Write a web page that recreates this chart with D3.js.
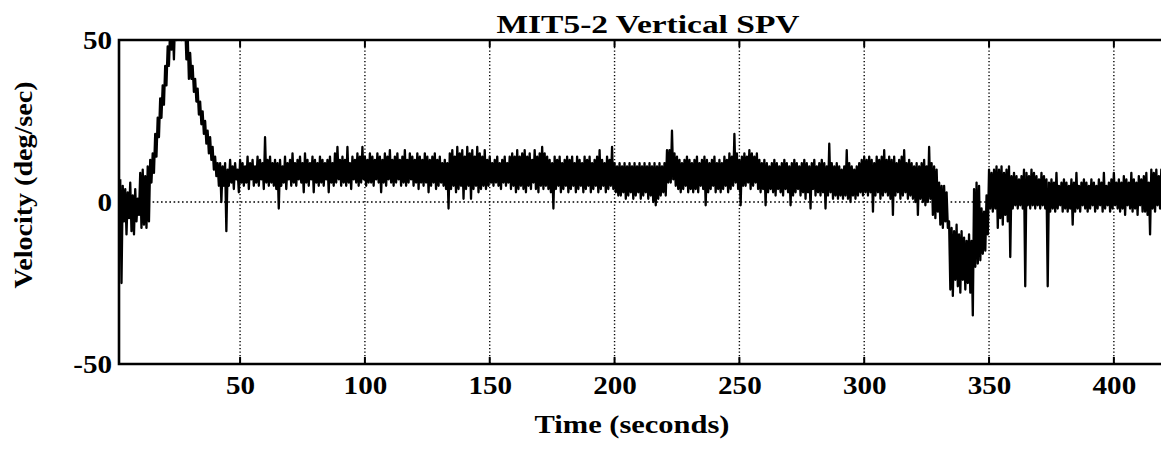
<!DOCTYPE html>
<html><head><meta charset="utf-8">
<script src="https://cdn.jsdelivr.net/npm/d3@7"></script>
<style>body{margin:0;background:#fff}svg{display:block}
text{font-family:"Liberation Serif","Times New Roman",Times,serif;font-weight:bold;fill:#000}</style>
</head><body><svg id="c" width="1161" height="450"></svg>
<script>
const title = "MIT5-2 Vertical SPV";
const xLabel = "Time (seconds)";
const yLabel = "Velocity (deg/sec)";
const xTicks = [50, 100, 150, 200, 250, 300, 350, 400];
const yTicks = [-50, 0, 50];
const xDomain = [1.5, 419];
const yDomain = [-50, 50];
const tStart = 2; // first second of the record; one high/low pair per second
const hi = [
  7, 5, 4, 3, 6, 2, 4, 1, 9, 10,
  8, 11, 13, 15, 21, 26, 32, 36, 42, 48,
  54, 56, 58, 58, 57, 56, 55, 52, 46, 42,
  38, 35, 31, 28, 25, 22, 20, 17, 14, 12,
  12, 11, 12, 10, 13, 11, 12, 10, 13, 12,
  11, 14, 12, 13, 11, 14, 13, 12, 20, 13,
  14, 12, 13, 12, 13, 11, 14, 12, 13, 15,
  12, 13, 14, 12, 15, 13, 12, 14, 13, 12,
  14, 13, 12, 13, 14, 12, 15, 17, 13, 14,
  13, 17, 12, 14, 13, 15, 14, 17, 14, 13,
  15, 14, 13, 15, 14, 13, 15, 14, 16, 13,
  14, 15, 13, 14, 16, 13, 15, 14, 13, 15,
  14, 13, 15, 14, 13, 14, 15, 13, 14, 12,
  13, 12, 15, 16, 14, 17, 15, 16, 14, 17,
  15, 16, 14, 17, 15, 14, 16, 13, 14, 12,
  13, 14, 12, 13, 14, 12, 14, 15, 14, 16,
  14, 15, 16, 14, 15, 13, 16, 14, 15, 17,
  15, 14, 13, 12, 14, 13, 14, 12, 13, 14,
  13, 14, 12, 14, 13, 12, 14, 13, 14, 12,
  13, 14, 16, 13, 12, 14, 13, 17, 12, 11,
  12, 11, 12, 11, 12, 11, 12, 11, 12, 11,
  12, 11, 12, 11, 12, 11, 12, 11, 12, 16,
  16, 22, 15, 14, 13, 12, 13, 14, 13, 12,
  13, 14, 12, 13, 14, 13, 12, 13, 14, 12,
  13, 12, 14, 13, 15, 14, 21, 15, 13, 14,
  15, 14, 16, 15, 14, 15, 13, 12, 13, 12,
  11, 12, 13, 12, 11, 12, 13, 12, 11, 12,
  13, 12, 11, 12, 13, 12, 11, 12, 13, 11,
  12, 13, 12, 11, 18, 12, 11, 12, 11, 10,
  11, 16, 12, 11, 10, 11, 12, 13, 14, 13,
  14, 13, 12, 14, 13, 14, 16, 13, 14, 13,
  14, 12, 13, 14, 16, 12, 13, 12, 11, 12,
  11, 12, 13, 11, 17, 12, 11, 10, 6, 5,
  5, 3, -6, -8, -9, -7, -10, -9, -11, -12,
  -10, -12, 4, 6, 5, -2, -3, 2, 10, 9,
  10, 11, 10, 11, 9, 10, 11, 8, 9, 8,
  7, 8, 10, 9, 8, 10, 9, 8, 7, 9,
  8, 7, 6, 7, 6, 9, 5, 6, 7, 6,
  5, 7, 6, 9, 5, 6, 7, 6, 5, 7,
  6, 5, 7, 6, 9, 5, 6, 7, 9, 6,
  7, 6, 8, 7, 6, 9, 7, 6, 8, 7,
  8, 9, 6, 10, 9, 10, 8, 10
];
const lo = [
  -25, -6, -10, -5, -9, -10, -6, -4, -8, -7,
  -8, -6, 6, 9, 14, 20, 26, 30, 36, 42,
  47, 44, 50, 51, 50, 50, 44, 38, 38, 34,
  31, 27, 24, 21, 18, 15, 13, 10, 8, 5,
  0, 5, -9, 5, 6, 4, 7, 3, 6, 5,
  6, 4, 7, 5, 6, 5, 7, 4, 6, 5,
  6, 5, 4, -2, 5, 6, 4, 7, 5, 6,
  5, 7, 6, 3, 6, 5, 7, 3, 6, 5,
  6, 5, 7, 3, 6, 5, 6, 7, 5, 6,
  5, 6, 4, 7, 6, 5, 6, 7, 5, 6,
  6, 5, 7, 6, 3, 6, 5, 7, 6, 5,
  6, 7, 5, 6, 5, 6, 7, 5, 6, 4,
  6, 5, 6, 3, 5, 6, 4, 5, 6, 5,
  4, -2, 4, 5, 3, 4, 5, 1, 4, 5,
  1, 4, 5, 3, 4, 5, 4, 5, 6, 5,
  6, 5, 4, 6, 5, 6, 4, 5, 3, 4,
  5, 4, 3, 5, 4, 6, 4, 3, 5, 4,
  5, 4, 3, -2, 4, 5, 3, 4, 5, 3,
  4, 5, 3, 4, 5, 3, 4, 5, 3, 4,
  5, 3, 4, 5, 3, 4, 5, 4, 3, 2,
  2, 3, 1, 2, 3, 1, 2, 3, 1, 2,
  3, 1, 2, 0, -1, 1, 2, 3, 2, 6,
  6, 7, 5, 4, 3, 4, 5, 3, 4, 3,
  4, 3, 5, 4, -1, 3, 4, 5, 3, 4,
  3, 4, 5, 3, 4, 5, 6, 4, -1, 5,
  5, 6, 4, 5, 6, 4, 3, 4, -1, 3,
  4, 3, 2, 4, 3, 2, 4, 3, -1, 2,
  3, 4, 2, 3, 1, 3, -2, 4, 2, 3,
  2, 3, -2, 2, 3, 1, 2, 1, 2, 1,
  2, 1, 0, 2, 1, 2, 3, 2, 3, 2,
  3, -3, 2, 3, 1, 2, 3, 2, 1, -4,
  2, 3, 1, 2, 3, 1, 2, 1, 0, -4,
  1, 0, -1, 0, 1, -4, -5, -3, -7, -8,
  -6, -8, -27, -29, -24, -26, -28, -24, -27, -25,
  -28, -35, -20, -19, -18, -16, -15, -10, -2, -3,
  -2, -8, -5, -7, -4, -6, -17, -2, -1, -2,
  -1, -2, -26, -1, -2, -1, -2, -1, -2, -1,
  -2, -26, -3, -2, -3, -2, -1, -3, -2, -3,
  -2, -7, -3, -2, -3, -1, -2, -3, -2, -1,
  -3, -2, -1, -3, -2, -1, -3, -2, -1, -2,
  -3, -2, -4, -1, -2, -3, -2, -4, -1, -3,
  -3, -4, -10, -2, -3, -1, -2, -3
];

const W = 1161, H = 450;
const L = 119, R = 1161.3, T = 40, B = 364;
const svg = d3.select("#c");

const x = d3.scaleLinear().domain(xDomain).range([L, R]);
const y = d3.scaleLinear().domain(yDomain).range([B, T]);
const fmt = d => String(d); // plain hyphen-minus as in the original

// grid
const grid = svg.append("g");
grid.selectAll("line.v").data(xTicks).join("line")
  .attr("x1", d => x(d)).attr("x2", d => x(d)).attr("y1", T).attr("y2", B)
  .attr("stroke", "#000").attr("stroke-width", 1.4).attr("stroke-dasharray", "1.3,2.2");
grid.append("line")
  .attr("x1", L).attr("x2", W + 2).attr("y1", y(0)).attr("y2", y(0))
  .attr("stroke", "#000").attr("stroke-width", 1.6).attr("stroke-dasharray", "1.6,2.6");

// data
svg.append("clipPath").attr("id", "clip").append("rect")
  .attr("x", L).attr("y", T).attr("width", W - L + 5).attr("height", B - T);
const n = Math.min(hi.length, lo.length);
const pts = [];
for (let i = 0; i < n; i++) {
  pts.push([tStart + i, hi[i]]);
  pts.push([tStart + i + 0.5, lo[i]]);
}
const line = d3.line().x(d => x(d[0])).y(d => y(d[1]));
svg.append("path").datum(pts)
  .attr("clip-path", "url(#clip)")
  .attr("fill", "none").attr("stroke", "#000").attr("stroke-width", 2.3)
  .attr("stroke-linejoin", "round")
  .attr("d", line);

// frame
svg.append("path")
  .attr("d", `M${W + 5},${T} H${L} V${B} H${W + 5}`)
  .attr("fill", "none").attr("stroke", "#000").attr("stroke-width", 2.6);

// inner ticks
const tk = svg.append("g");
tk.selectAll("line.t").data(xTicks).join("line")
  .attr("x1", d => x(d)).attr("x2", d => x(d)).attr("y1", T).attr("y2", T + 7)
  .attr("stroke", "#000").attr("stroke-width", 2);
tk.selectAll("line.b").data(xTicks).join("line")
  .attr("x1", d => x(d)).attr("x2", d => x(d)).attr("y1", B).attr("y2", B - 7)
  .attr("stroke", "#000").attr("stroke-width", 2);

// axes (labels only)
const sx = 1.12;
const gx = svg.append("g").attr("transform", `translate(0,${B})`)
  .call(d3.axisBottom(x).tickValues(xTicks).tickSize(0).tickFormat(fmt));
gx.select(".domain").remove();
gx.attr("font-family", null).attr("font-size", null);
gx.selectAll("text")
  .attr("y", 30).attr("dy", 0)
  .attr("transform", `scale(${sx},1)`)
  .style("font-size", "26px");

const gy = svg.append("g").attr("transform", `translate(${L},0)`)
  .call(d3.axisLeft(y).tickValues(yTicks).tickSize(0).tickFormat(fmt));
gy.select(".domain").remove();
gy.attr("font-family", null).attr("font-size", null);
gy.selectAll("text")
  .attr("x", -7 / sx).attr("dy", "0.34em")
  .attr("transform", `scale(${sx},1)`)
  .style("font-size", "26px");

// titles
svg.append("text").text(title)
  .attr("x", 648).attr("y", 33).attr("text-anchor", "middle")
  .attr("textLength", 303).attr("lengthAdjust", "spacingAndGlyphs")
  .style("font-size", "26px");
svg.append("text").text(xLabel)
  .attr("x", 632).attr("y", 433).attr("text-anchor", "middle")
  .attr("textLength", 195).attr("lengthAdjust", "spacingAndGlyphs")
  .style("font-size", "25px");
svg.append("text").text(yLabel)
  .attr("transform", "translate(32,185) rotate(-90)").attr("text-anchor", "middle")
  .attr("textLength", 207).attr("lengthAdjust", "spacingAndGlyphs")
  .style("font-size", "26px");
</script>
</body></html>
